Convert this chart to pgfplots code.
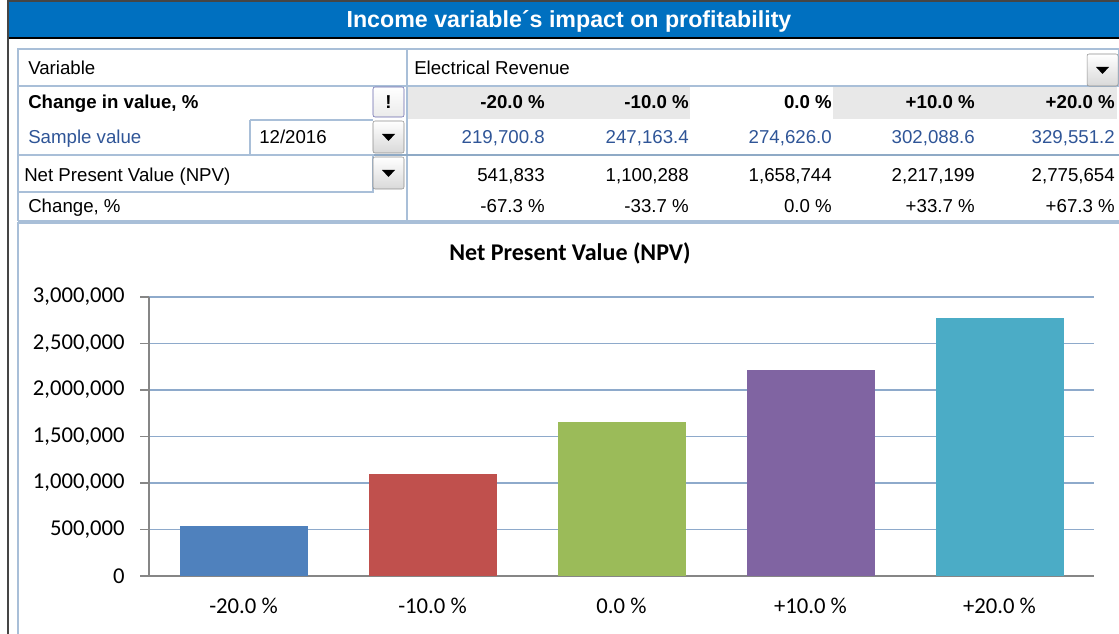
\documentclass[border=0pt]{standalone}
\usepackage{fontspec}
\setmainfont{Liberation Sans}
\newfontfamily\calib{Carlito}
\usepackage{pgfplots}
\pgfplotsset{compat=1.18}
\definecolor{band}{HTML}{0070C0}
\definecolor{frame}{HTML}{454545}
\definecolor{cellline}{HTML}{A9BFD8}
\definecolor{rowline}{HTML}{8FAAC6}
\definecolor{hdrgray}{HTML}{E8E8E8}
\definecolor{sampleblue}{HTML}{2F5597}
\definecolor{gridblue}{HTML}{8EAACB}
\definecolor{axisgray}{HTML}{868686}
\definecolor{npvA}{HTML}{4F81BD}
\definecolor{npvB}{HTML}{C0504D}
\definecolor{npvC}{HTML}{9BBB59}
\definecolor{npvD}{HTML}{8064A2}
\definecolor{npvE}{HTML}{4BACC6}

\newcommand{\tbl}{\fontsize{14}{16.5}\selectfont}
\newcommand{\chartfont}{\calib\fontsize{17}{20}\selectfont}
% dropdown button, top-left corner in px
\newcommand{\ddbtn}[2]{%
  \draw[rounded corners=1.5pt,draw=black!45,top color=white,bottom color=black!15]
    (#1,#2) rectangle ++(31,32);
  \fill[black,shift={(#1,#2)}] (9,13) -- (22,13) -- (15.5,20) -- cycle;
}

\begin{document}
\begin{tikzpicture}
\begin{scope}[x=0.75pt,y=-0.75pt]
  \path[use as bounding box] (0,0) rectangle (1119,634);
  % banner
  \fill[band] (9,2) rectangle (1119,37);
  \fill[black] (9,37) rectangle (1119,39.5);
  \draw[frame,line width=1.5pt] (8,0) -- (8,634);
  \draw[frame,line width=1.5pt] (8,1) -- (1119,1);
  \node[anchor=base,text=white,font=\fontsize{17.4}{20}\selectfont\bfseries,inner sep=0]
    at (569,28) {Income variable´s impact on profitability};

  % table
  \fill[hdrgray] (408,87) rectangle (690,119);
  \fill[hdrgray] (833,87) rectangle (1117,119);
  \draw[cellline,line width=0.9pt] (18,49) rectangle (407,86);
  \draw[cellline,line width=0.9pt] (407,49) rectangle (1119,86);
  \draw[cellline,line width=0.9pt] (18,49) -- (18,221);
  \draw[cellline,line width=0.9pt] (407,49) -- (407,221);
  \draw[cellline,line width=0.9pt] (250,120) -- (250,155);
  \draw[cellline,line width=0.9pt] (250,120) -- (373,120);
  \draw[rowline,line width=1.2pt] (18,155) -- (1119,155);
  \draw[cellline,line width=0.9pt] (18,155) rectangle (373,192);
  \draw[cellline,line width=0.9pt] (18,221) -- (1119,221);
  \ddbtn{1087}{54}
  \ddbtn{373}{121}
  \ddbtn{373}{157}
  \draw[rounded corners=1.5pt,draw=black!55!blue!60,top color=white,bottom color=black!8]
    (373,87) rectangle ++(31,30);
  \node[font=\tbl\bfseries,inner sep=0] at (388.5,102) {!};

  \begin{scope}[every node/.style={inner sep=0,font=\tbl}]
    \node[anchor=base west] at (28,74.5) {Variable};
    \node[anchor=base west] at (414,74.5) {Electrical Revenue};
    \node[anchor=base west,font=\tbl\bfseries] at (28,108.5) {Change in value, \%};
    \node[anchor=base west,text=sampleblue] at (28,143.5) {Sample value};
    \node[anchor=base west] at (259,143.5) {12/2016};
    \node[anchor=base west] at (24,181.5) {Net Present Value (NPV)};
    \node[anchor=base west] at (28,212.5) {Change, \%};
    \foreach \xr/\a/\b/\c/\d in {
        545/{-20.0 \%}/{219,700.8}/{541,833}/{-67.3 \%},
        689/{-10.0 \%}/{247,163.4}/{1,100,288}/{-33.7 \%},
        832/{0.0 \%}/{274,626.0}/{1,658,744}/{0.0 \%},
        975/{+10.0 \%}/{302,088.6}/{2,217,199}/{+33.7 \%},
        1115/{+20.0 \%}/{329,551.2}/{2,775,654}/{+67.3 \%}} {
      \node[anchor=base east,font=\tbl\bfseries] at (\xr,108.5) {\a};
      \node[anchor=base east,text=sampleblue] at (\xr,143.5) {\b};
      \node[anchor=base east] at (\xr,181.5) {\c};
      \node[anchor=base east] at (\xr,212.5) {\d};
    }
  \end{scope}

  % chart area
  \draw[cellline,line width=0.9pt] (18,223) rectangle (1130,640);
  \node[anchor=base,font=\calib\fontsize{18}{21}\selectfont\bfseries,inner sep=0]
    at (570,261) {Net Present Value (NPV)};
\end{scope}

\begin{axis}[
  at={(111.75pt,-432pt)}, anchor=south west,
  width=708.75pt, height=209.25pt, scale only axis,
  xmin=-0.5, xmax=4.5, ymin=0, ymax=3000000,
  ytick={0,500000,1000000,1500000,2000000,2500000,3000000},
  xtick={0,1,2,3,4},
  xticklabels={-20.0 \%,-10.0 \%,0.0 \%,+10.0 \%,+20.0 \%},
  axis lines=left,
  axis line style={-,draw=axisgray,line width=1pt},
  ymajorgrids, grid style={gridblue,line width=0.8pt},
  tick align=outside, major tick length=6.75pt,
  ytick style={axisgray,line width=1pt},
  xtick style={draw=none},
  scaled y ticks=false,
  /pgf/number format/.cd, fixed, 1000 sep={,}, assume math mode=true,
  /pgfplots/.cd,
  ticklabel style={font=\chartfont},
  yticklabel style={xshift=-8pt},
  xticklabel style={yshift=-6.25pt},
  ybar, bar width=96pt, bar shift=0pt,
]
  \addplot[fill=npvA,draw=none] coordinates {(0,541833)};
  \addplot[fill=npvB,draw=none] coordinates {(1,1100288)};
  \addplot[fill=npvC,draw=none] coordinates {(2,1658744)};
  \addplot[fill=npvD,draw=none] coordinates {(3,2217199)};
  \addplot[fill=npvE,draw=none] coordinates {(4,2775654)};
\end{axis}
\end{tikzpicture}
\end{document}
